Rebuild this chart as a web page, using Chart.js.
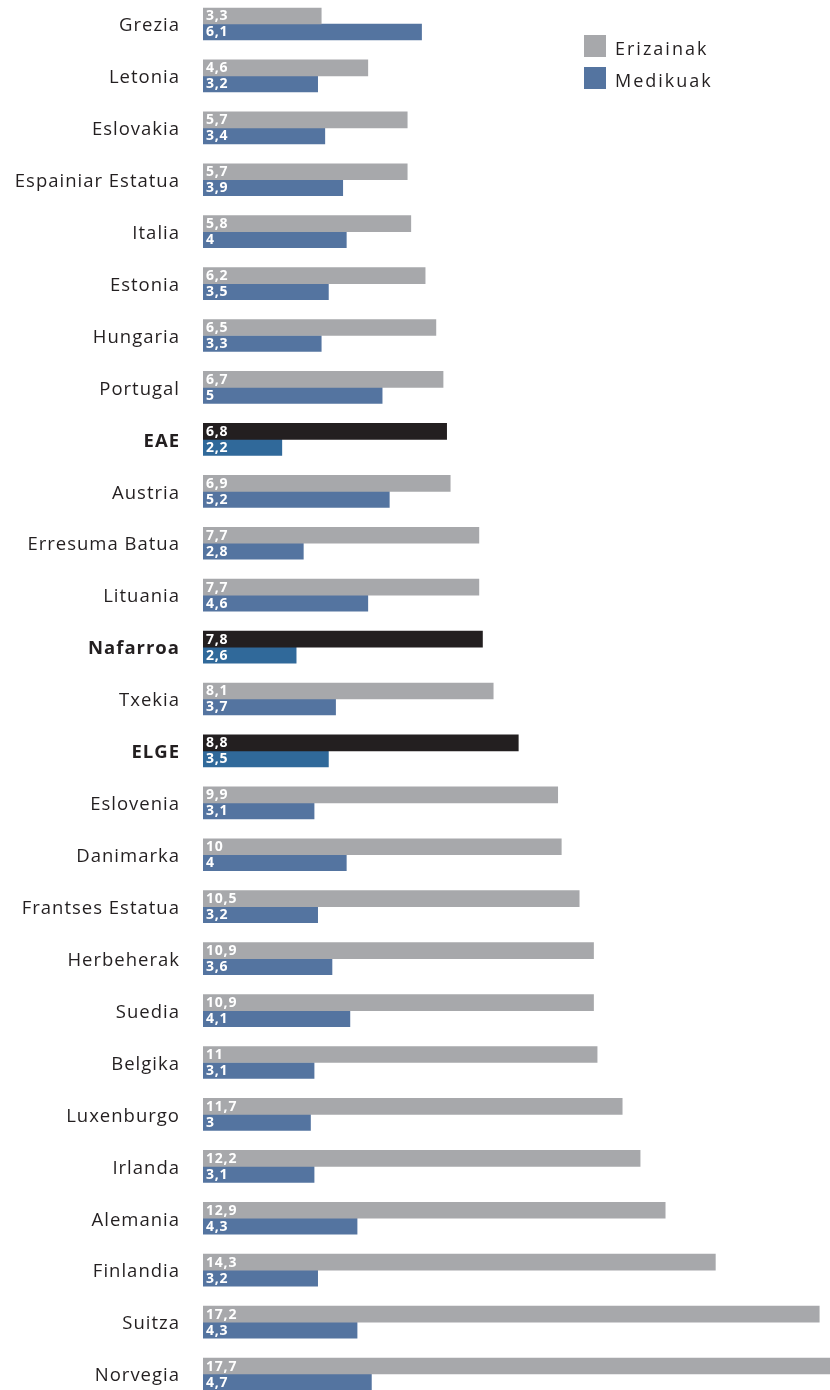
<!DOCTYPE html>
<html>
<head>
<meta charset="utf-8">
<script src="https://cdn.jsdelivr.net/npm/chart.js@4/dist/chart.umd.min.js"></script>
<style>
  html, body { margin: 0; padding: 0; background: #fff; overflow: hidden; }
  body { width: 830px; height: 1390px; position: relative; }
  #wrap { position: absolute; left: 0; top: -2px; width: 830px; height: 1402px; }
  .legend { position: absolute; left: 584px; font-family: "Open Sans", "DejaVu Sans", sans-serif; font-size: 18px; font-weight: 500; color: #231f20; letter-spacing: 2px; }
  .legend div { position: relative; height: 22px; margin-bottom: 10px; line-height: 22px; }
  .legend span.sw { position: absolute; left: 0; top: 0; width: 22px; height: 22px; }
  .legend span.tx { position: absolute; left: 31px; top: 2px; white-space: nowrap; }
</style>
</head>
<body>
<div id="wrap"><canvas id="c" width="830" height="1402"></canvas></div>
<div class="legend" style="top:35px">
  <div><span class="sw" style="background:#a7a8ab"></span><span class="tx">Erizainak</span></div>
  <div><span class="sw" style="background:#5474a0"></span><span class="tx">Medikuak</span></div>
</div>
<script>
const categories = ["Grezia", "Letonia", "Eslovakia", "Espainiar Estatua", "Italia", "Estonia",
  "Hungaria", "Portugal", "EAE", "Austria", "Erresuma Batua", "Lituania", "Nafarroa", "Txekia",
  "ELGE", "Eslovenia", "Danimarka", "Frantses Estatua", "Herbeherak", "Suedia", "Belgika",
  "Luxenburgo", "Irlanda", "Alemania", "Finlandia", "Suitza", "Norvegia"];
const nurses = [3.3, 4.6, 5.7, 5.7, 5.8, 6.2, 6.5, 6.7, 6.8, 6.9, 7.7, 7.7, 7.8, 8.1, 8.8, 9.9,
  10, 10.5, 10.9, 10.9, 11, 11.7, 12.2, 12.9, 14.3, 17.2, 17.7];
const doctors = [6.1, 3.2, 3.4, 3.9, 4, 3.5, 3.3, 5, 2.2, 5.2, 2.8, 4.6, 2.6, 3.7, 3.5, 3.1,
  4, 3.2, 3.6, 4.1, 3.1, 3, 3.1, 4.3, 3.2, 4.3, 4.7];
const highlighted = ["EAE", "Nafarroa", "ELGE"];
const seriesNames = ["Erizainak", "Medikuak"];

const GREY = "#a7a8ab", BLUE = "#5474a0", BLACK = "#231f20", DARKBLUE = "#30699a";
const isHi = c => highlighted.includes(c);

const fmt = v => String(v).replace(".", ",");

// Widen the tracking of all canvas text a little
const tracking = {
  id: "tracking",
  beforeDraw(chart) { chart.ctx.letterSpacing = "1px"; }
};

// Value written in white at the start of each bar
const valueLabels = {
  id: "valueLabels",
  afterDatasetsDraw(chart) {
    const ctx = chart.ctx;
    ctx.save();
    ctx.letterSpacing = "0.8px";
    ctx.fillStyle = "#ffffff";
    ctx.font = "bold 14px 'Open Sans', 'DejaVu Sans', sans-serif";
    ctx.textAlign = "left";
    ctx.textBaseline = "middle";
    chart.data.datasets.forEach((ds, di) => {
      const meta = chart.getDatasetMeta(di);
      meta.data.forEach((bar, i) => {
        ctx.fillText(fmt(ds.data[i]), bar.base + 3, bar.y + 0.5);
      });
    });
    ctx.restore();
  }
};

new Chart(document.getElementById("c"), {
  type: "bar",
  data: {
    labels: categories,
    datasets: [
      { label: seriesNames[0], data: nurses,
        backgroundColor: categories.map(c => isHi(c) ? BLACK : GREY), barThickness: 16 },
      { label: seriesNames[1], data: doctors,
        backgroundColor: categories.map(c => isHi(c) ? DARKBLUE : BLUE), barThickness: 16 }
    ]
  },
  options: {
    indexAxis: "y",
    responsive: false,
    animation: false,
    layout: { padding: 0 },
    plugins: { legend: { display: false }, tooltip: { enabled: false } },
    scales: {
      x: { display: false, min: 0, max: 17.5 },
      y: {
        grid: { display: false, drawTicks: false },
        border: { display: false },
        afterFit(scale) {
          scale.width = 203;
          scale.paddingTop = 0;
          scale.paddingBottom = 0;
        },
        ticks: {
          padding: 23,
          labelOffset: 2,
          color: "#231f20",
          font: ctx => ({
            family: "'Open Sans', 'DejaVu Sans', sans-serif",
            size: 18.5,
            weight: isHi(categories[ctx.index]) ? "bold" : "normal"
          })
        }
      }
    }
  },
  plugins: [tracking, valueLabels]
});
</script>
</body>
</html>
